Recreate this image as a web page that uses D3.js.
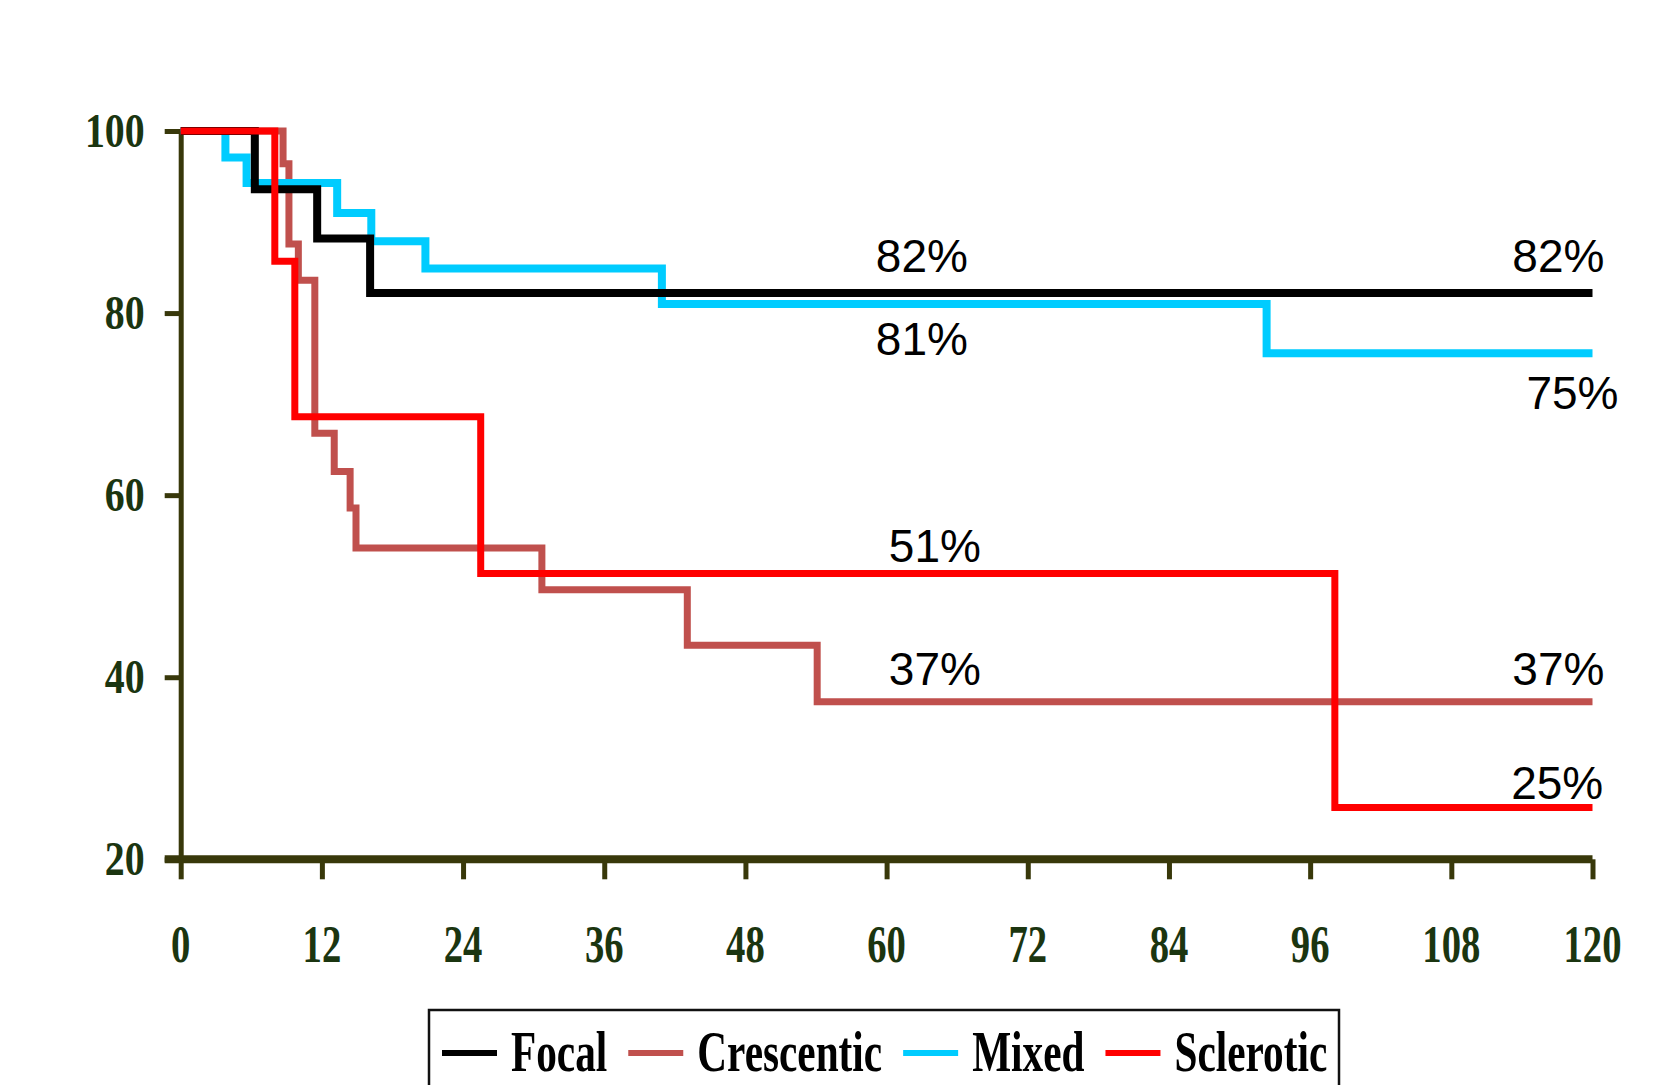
<!DOCTYPE html>
<html><head><meta charset="utf-8">
<script src="https://cdn.jsdelivr.net/npm/d3@7/dist/d3.min.js"></script>
<style>html,body{margin:0;padding:0;background:#fff;overflow:hidden}</style>
</head><body>
<svg id="chart" width="1659" height="1085"></svg>
<script>
// ---------- data ----------
const seriesNames = ["Focal", "Crescentic", "Mixed", "Sclerotic"];
const focalMonths = [0, 6.3, 11.6, 16.1, 120];
const focalValues = [100, 93.6, 88.2, 82.2, 82.2];
const crescenticMonths = [0, 8.7, 9.2, 10.0, 11.4, 13.05, 14.4, 14.9, 30.7, 43.06, 54.1, 120];
const crescenticValues = [100, 96.4, 87.6, 83.6, 66.8, 62.6, 58.6, 54.2, 49.6, 43.5, 37.3, 37.3];
const mixedMonths = [0, 3.8, 5.6, 13.3, 16.2, 20.8, 40.9, 92.3, 120];
const mixedValues = [100, 97.1, 94.3, 91.0, 87.9, 84.9, 81.0, 75.6, 75.6];
const scleroticMonths = [0, 8.0, 9.7, 25.5, 98.1, 120];
const scleroticValues = [100, 85.7, 68.6, 51.4, 25.7, 25.7];
const xTicks = [0, 12, 24, 36, 48, 60, 72, 84, 96, 108, 120];
const yTicks = [20, 40, 60, 80, 100];
const annotationTexts = ["82%", "81%", "82%", "75%", "51%", "37%", "37%", "25%"];
const annotationMonths = [63.0, 63.0, 117.1, 118.3, 64.1, 64.1, 117.1, 117.0];
const annotationValues = [82.2, 81.0, 82.2, 75.6, 51.4, 37.3, 37.3, 25.7];
const annotationSide = ["above", "below", "above", "below", "above", "above", "above", "above"];

// ---------- styles ----------
const colors = {Focal: "#000000", Crescentic: "#c0504d", Mixed: "#00ccff", Sclerotic: "#ff0000"};
const widths = {Focal: 8, Crescentic: 7, Mixed: 8, Sclerotic: 7};
const axisColor = "#38380a";
const labelColor = "#1b3510";
const serif = "'Liberation Serif','Times New Roman',serif";
const sans = "'Liberation Sans',Arial,sans-serif";

const svg = d3.select("#chart");
const x = d3.scaleLinear().domain([0, 120]).range([180.7, 1592.5]);
const y = d3.scaleLinear().domain([20, 100]).range([859.3, 131]);

// ---------- axes ----------
const gy = svg.append("g").attr("transform", `translate(${x(0)},0)`)
  .call(d3.axisLeft(y).tickValues(yTicks).tickSize(16).tickSizeOuter(0).tickFormat(""));
gy.select(".domain").attr("stroke", axisColor).attr("stroke-width", 5);
gy.selectAll(".tick line").attr("stroke", axisColor).attr("stroke-width", 5);

svg.append("g").selectAll("text").data(yTicks).join("text")
  .attr("transform", d => `translate(${x(0) - 36},${y(d)}) scale(0.83,1)`)
  .attr("text-anchor", "end").attr("dy", "0.33em")
  .style("font-family", serif).style("font-weight", "bold").style("font-size", "48px")
  .attr("fill", labelColor).text(d => d);

const gx = svg.append("g").attr("transform", `translate(0,${y(20)})`)
  .call(d3.axisBottom(x).tickValues(xTicks).tickSize(20).tickSizeOuter(0).tickFormat(""));
gx.select(".domain").attr("d", `M${x(0) - 16},0H${x(120)}`).attr("stroke", axisColor).attr("stroke-width", 8);
gx.selectAll(".tick line").attr("stroke", axisColor).attr("stroke-width", 5);

svg.append("g").selectAll("text").data(xTicks).join("text")
  .attr("transform", d => `translate(${x(d)},${y(20) + 103}) scale(0.73,1)`)
  .attr("text-anchor", "middle")
  .style("font-family", serif).style("font-weight", "bold").style("font-size", "53px")
  .attr("fill", labelColor).text(d => d);

// ---------- curves ----------
const seriesData = {
  Focal: focalMonths.map((m, i) => [m, focalValues[i]]),
  Crescentic: crescenticMonths.map((m, i) => [m, crescenticValues[i]]),
  Mixed: mixedMonths.map((m, i) => [m, mixedValues[i]]),
  Sclerotic: scleroticMonths.map((m, i) => [m, scleroticValues[i]])
};
const line = d3.line().x(d => x(d[0])).y(d => y(d[1])).curve(d3.curveStepAfter);
const drawOrder = ["Crescentic", "Mixed", "Focal", "Sclerotic"];
svg.append("g").selectAll("path").data(drawOrder).join("path")
  .attr("d", n => line(seriesData[n]))
  .attr("fill", "none")
  .attr("stroke", n => colors[n])
  .attr("stroke-width", n => widths[n])
  .attr("stroke-linejoin", "miter")
  .attr("stroke-linecap", "butt");

// ---------- annotations ----------
function labelOffset(i) {
  const v = annotationValues[i];
  if (annotationSide[i] === "below") return v < 78 ? 56 : 51;
  if (v < 30) return -8;
  if (v < 40) return -17;
  if (v < 60) return -11;
  return -21;
}
svg.append("g").selectAll("text").data(annotationTexts).join("text")
  .attr("x", (t, i) => x(annotationMonths[i]))
  .attr("y", (t, i) => y(annotationValues[i]) + labelOffset(i))
  .attr("text-anchor", "middle")
  .style("font-family", sans).style("font-size", "46px")
  .attr("fill", "#000").text(t => t);

// ---------- legend ----------
const legend = svg.append("g");
legend.append("rect").attr("x", 429).attr("y", 1010).attr("width", 910).attr("height", 110)
  .attr("fill", "#fff").attr("stroke", "#111").attr("stroke-width", 2.5);
let cx = 442;
seriesNames.forEach(n => {
  legend.append("line").attr("x1", cx).attr("x2", cx + 55).attr("y1", 1053).attr("y2", 1053)
    .attr("stroke", colors[n]).attr("stroke-width", 6);
  const tx = cx + 69;
  const t = legend.append("text")
    .attr("transform", `translate(${tx},1071) scale(0.737,1)`)
    .style("font-family", serif).style("font-weight", "bold").style("font-size", "56px")
    .attr("fill", "#000").text(n);
  const w = t.node().getComputedTextLength() * 0.737;
  cx = tx + w + 21;
});
</script>
</body></html>
